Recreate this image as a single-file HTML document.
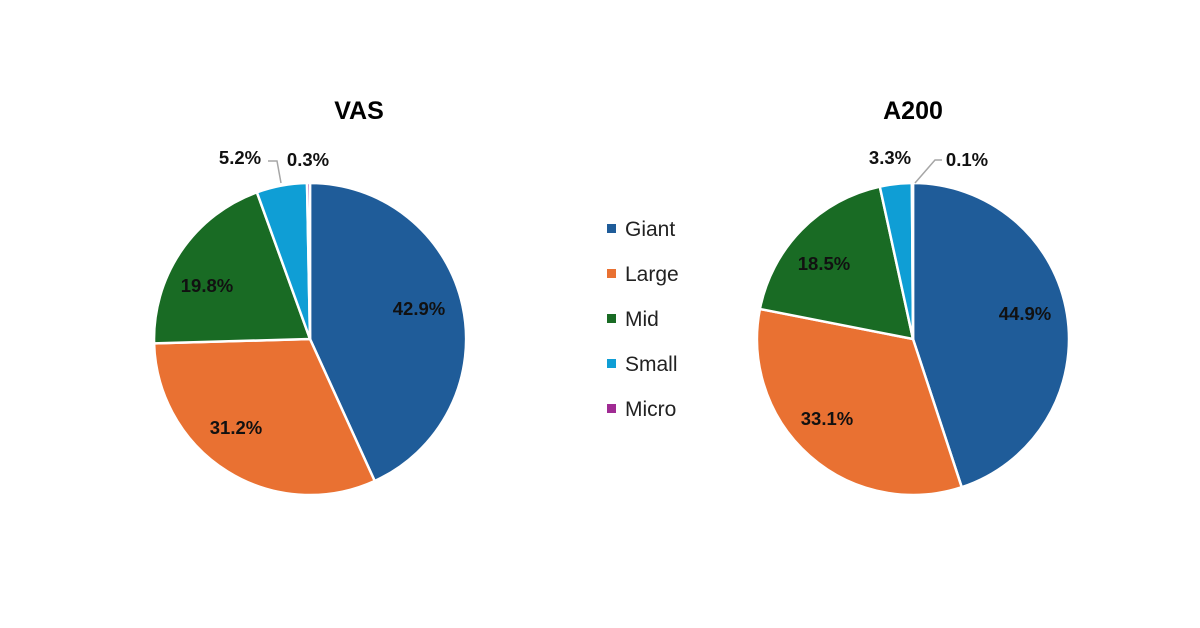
<!DOCTYPE html>
<html><head><meta charset="utf-8"><style>
html,body{margin:0;padding:0;background:#fff;}
svg{display:block;font-family:"Liberation Sans",Arial,sans-serif;}
</style></head><body>
<svg width="1200" height="628" viewBox="0 0 1200 628">
<rect width="1200" height="628" fill="#fff"/>
<g stroke="#fff" stroke-width="2.5" stroke-linejoin="round">
<path d="M310,339 L310,183 A156,156 0 0,1 374.7,481 Z" fill="#1f5c99"/>
<path d="M310,339 L374.7,481 A156,156 0 0,1 154.1,343.4 Z" fill="#e97132"/>
<path d="M310,339 L154.1,343.4 A156,156 0 0,1 256.9,192.3 Z" fill="#196b24"/>
<path d="M310,339 L256.9,192.3 A156,156 0 0,1 307,183 Z" fill="#0f9ed5"/>
<path d="M310,339 L307,183 A156,156 0 0,1 310,183 Z" fill="#a02b93"/>
<path d="M913,339 L913,183 A156,156 0 0,1 961.7,487.2 Z" fill="#1f5c99"/>
<path d="M913,339 L961.7,487.2 A156,156 0 0,1 759.9,309 Z" fill="#e97132"/>
<path d="M913,339 L759.9,309 A156,156 0 0,1 879.8,186.6 Z" fill="#196b24"/>
<path d="M913,339 L879.8,186.6 A156,156 0 0,1 911.9,183 Z" fill="#0f9ed5"/>
<path d="M913,339 L911.9,183 A156,156 0 0,1 913,183 Z" fill="#a02b93"/>
</g>
<g fill="none" stroke="#a6a6a6" stroke-width="1.5">
<polyline points="268,161 277,161 281,183"/>
<polyline points="942,160 935,160 915,183"/>
</g>
<g font-weight="bold" fill="#000" text-anchor="middle">
<text x="359" y="119" font-size="25">VAS</text>
<text x="913" y="119" font-size="25">A200</text>
</g>
<g font-weight="bold" font-size="18.5" fill="#111" text-anchor="middle">
<text x="419" y="315">42.9%</text>
<text x="236" y="434">31.2%</text>
<text x="207" y="292">19.8%</text>
<text x="240" y="164">5.2%</text>
<text x="308" y="166">0.3%</text>
<text x="1025" y="320">44.9%</text>
<text x="827" y="425">33.1%</text>
<text x="824" y="270">18.5%</text>
<text x="890" y="164">3.3%</text>
<text x="967" y="166">0.1%</text>
</g>
<g font-size="21" fill="#222">
<rect x="607" y="224" width="9" height="9" fill="#1f5c99"/><text x="625" y="236">Giant</text>
<rect x="607" y="269" width="9" height="9" fill="#e97132"/><text x="625" y="281">Large</text>
<rect x="607" y="314" width="9" height="9" fill="#196b24"/><text x="625" y="326">Mid</text>
<rect x="607" y="359" width="9" height="9" fill="#0f9ed5"/><text x="625" y="371">Small</text>
<rect x="607" y="404" width="9" height="9" fill="#a02b93"/><text x="625" y="416">Micro</text>
</g>
</svg>
</body></html>
